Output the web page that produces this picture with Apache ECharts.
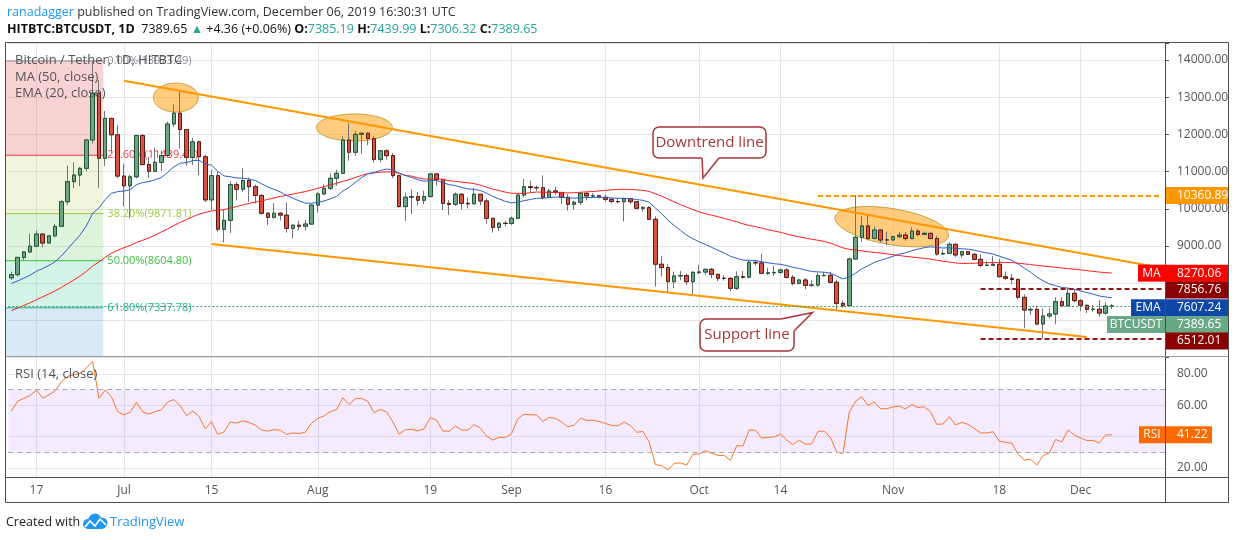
<!DOCTYPE html>
<html>
<head>
<meta charset="utf-8">
<title>HITBTC:BTCUSDT 1D</title>
<script src="https://cdn.jsdelivr.net/npm/echarts@6/dist/echarts.min.js"></script>
<style>
  html, body { margin: 0; padding: 0; background: #fff; }
  #main { width: 1234px; height: 540px; }
</style>
</head>
<body>
<div id="main"></div>
<script>
// daily candles, rows are [open, close, low, high]
const candlesJun = [
  [8145, 8230, 8087, 8311], [8230, 8693, 8183, 8710], [8693, 8838, 8618, 8859], [8838, 8994, 8837, 9335],
  [8994, 9320, 8988, 9416], [9320, 9081, 8966, 9348], [9081, 9273, 9070, 9299], [9273, 9527, 9232, 9594],
  [9527, 10190, 9526, 10230], [10190, 10730, 10107, 11157], [10730, 10909, 10556, 11246], [10909, 11088, 10610, 11120],
  [11088, 11850, 11012, 11880], [11850, 13110, 11755, 13973.49], [13110, 11360, 10560, 13460], [11360, 12430, 11150, 12630],
  [12430, 11990, 11508, 12440], [11990, 10880, 10820, 12250]
];
const candlesJul = [
  [10880, 10620, 10060, 11210], [10620, 10860, 9740, 10912], [10860, 11970, 10818, 11980], [11970, 11190, 11166, 12006],
  [11190, 11010, 10830, 11395], [11010, 11250, 10982, 11650], [11250, 11430, 11012, 11568], [11430, 12280, 11393, 12345],
  [12280, 12570, 12200, 12808], [12570, 12130, 11620, 13150], [12130, 11380, 11158, 12144], [11380, 11800, 11179, 11905],
  [11800, 11400, 10908, 11841], [11400, 10240, 10180, 11451], [10240, 10890, 9970, 11052], [10890, 9450, 9380, 10996],
  [9450, 9690, 9100, 9963], [9690, 10650, 9350, 10736], [10650, 10525, 10229, 10716], [10525, 10760, 10451, 11100],
  [10760, 10595, 10184, 10841], [10595, 10360, 10154, 10651], [10360, 9880, 9840, 10380], [9880, 9770, 9560, 9917],
  [9770, 9880, 9740, 10154], [9880, 9830, 9690, 9916], [9830, 9475, 9360, 10167], [9475, 9560, 9200, 9575],
  [9560, 9530, 9420, 9681], [9530, 9590, 9420, 9701], [9590, 10100, 9580, 10110]
];
const candlesAug = [
  [10100, 10400, 9900, 10446], [10400, 10550, 10371, 10657], [10550, 10820, 10503, 10946], [10820, 10955, 10620, 11050],
  [10955, 11850, 10955, 11950], [11850, 11520, 11290, 12300], [11520, 12000, 11433, 12100], [12000, 12030, 11480, 12050],
  [12030, 11890, 11709, 12050], [11890, 11330, 11250, 11950], [11330, 11560, 11248, 11580], [11560, 11430, 11320, 11600],
  [11430, 10890, 10830, 11500], [10890, 10060, 10028, 10920], [10060, 10310, 9675, 10437], [10310, 10330, 9856, 10524],
  [10330, 10230, 10086, 10452], [10230, 10330, 10119, 10487], [10330, 10936, 10300, 10960], [10936, 10790, 10618, 10960],
  [10790, 10147, 9962, 10798], [10147, 10120, 9831, 10232], [10120, 10390, 10078, 10442], [10390, 10147, 9983, 10419],
  [10147, 10135, 10008, 10304], [10135, 10390, 10130, 10560], [10390, 10210, 10087, 10400], [10210, 9745, 9601, 10279],
  [9745, 9500, 9360, 9756], [9500, 9610, 9402, 9655], [9610, 9605, 9531, 9673]
];
const candlesSep = [
  [9605, 9745, 9560, 9797], [9745, 10370, 9730, 10410], [10370, 10595, 10308, 10800], [10595, 10570, 10434, 10762],
  [10570, 10565, 10482, 10627], [10565, 10308, 10250, 10898], [10308, 10480, 10300, 10532], [10480, 10440, 10380, 10595],
  [10440, 10308, 10130, 10450], [10308, 10120, 9954, 10394], [10120, 10175, 9980, 10215], [10175, 10416, 10099, 10450],
  [10416, 10345, 10226, 10441], [10345, 10350, 10291, 10422], [10350, 10310, 10280, 10387], [10310, 10255, 10189, 10386],
  [10255, 10195, 10150, 10297], [10195, 10190, 10150, 10275], [10190, 10275, 9660, 10295], [10275, 10190, 10132, 10285],
  [10190, 10013, 9990, 10200], [10013, 10030, 9922, 10074], [10030, 9717, 9700, 10074], [9717, 8510, 7910, 9802],
  [8510, 8420, 8180, 8730], [8420, 8040, 7750, 8520], [8040, 8195, 7870, 8315], [8195, 8205, 8080, 8333],
  [8205, 8040, 7950, 8261], [8040, 8292, 7700, 8330]
];
const candlesOct = [
  [8292, 8300, 8232, 8497], [8300, 8373, 8227, 8393], [8373, 8238, 8135, 8413], [8238, 8131, 8057, 8260],
  [8131, 8130, 8071, 8215], [8130, 7862, 7780, 8161], [7862, 8176, 7820, 8316], [8176, 8160, 8120, 8332],
  [8160, 8561, 8130, 8627], [8561, 8545, 8477, 8625], [8545, 8265, 8250, 8794], [8265, 8280, 8220, 8414],
  [8280, 8290, 8200, 8470], [8290, 8355, 8250, 8400], [8355, 8158, 8120, 8406], [8158, 7996, 7940, 8216],
  [7996, 8086, 7965, 8120], [8086, 7943, 7841, 8139], [7943, 7950, 7900, 8082], [7950, 8203, 7900, 8281],
  [8203, 8210, 8180, 8296], [8210, 8023, 8000, 8303], [8023, 7459, 7300, 8093], [7459, 7396, 7342, 7532],
  [7396, 8650, 7380, 8691], [8650, 9233, 8645, 10360.89], [9233, 9538, 9112, 9800], [9538, 9206, 9150, 9850],
  [9206, 9430, 9180, 9516], [9430, 9161, 9085, 9440], [9161, 9165, 9028, 9383]
];
const candlesNov = [
  [9165, 9250, 9132, 9275], [9250, 9295, 9220, 9377], [9295, 9200, 9141, 9379], [9200, 9400, 9191, 9505],
  [9400, 9310, 9257, 9457], [9310, 9340, 9290, 9391], [9340, 9200, 9190, 9368], [9200, 8785, 8740, 9272],
  [8785, 8800, 8760, 8891], [8800, 9045, 8790, 9103], [9045, 8758, 8704, 9066], [8758, 8848, 8685, 8880],
  [8848, 8776, 8761, 8860], [8776, 8642, 8620, 8812], [8642, 8480, 8427, 8778], [8480, 8480, 8460, 8591],
  [8480, 8510, 8460, 8727], [8510, 8176, 8150, 8653], [8176, 8131, 8080, 8316], [8131, 8100, 7980, 8247],
  [8100, 7620, 7560, 8130], [7620, 7280, 6787, 7697], [7280, 7297, 7150, 7351], [7297, 6903, 6870, 7398],
  [6903, 7118, 6512.01, 7319], [7118, 7172, 7050, 7320], [7172, 7504, 6900, 7619], [7504, 7396, 7350, 7620],
  [7396, 7728, 7380, 7856.76], [7728, 7531, 7480, 7836]
];
const candlesDec = [
  [7531, 7405, 7250, 7571], [7405, 7297, 7200, 7430], [7297, 7300, 7230, 7418], [7300, 7195, 7100, 7550],
  [7195, 7385.19, 7150, 7480], [7385.19, 7389.65, 7306.32, 7439.99]
];
// closes 24 Apr - 12 Jun, only used to warm up MA / EMA / RSI
const warmupCloses = [
  5464, 5210, 5279, 5268, 5285, 5248, 5350,
  5402, 5505, 5768, 5831, 5795, 5746, 5829, 5982, 6174, 6379, 7204, 6972, 7814, 7994, 8205, 7884,
  7343, 7271, 8197, 7978, 7963, 7680, 7881, 7987, 8052, 8673, 8805, 8720, 8659, 8319, 8574,
  8564, 8742, 8209, 7707, 7824, 7822, 8043, 7954, 7688, 8000, 7927, 8145
];

const firstDay = '2019-06-13';
const dayCount = 185;
const tickDates = ['2019-06-17', '2019-07-01', '2019-07-15', '2019-08-01', '2019-08-19', '2019-09-01',
  '2019-09-16', '2019-10-01', '2019-10-14', '2019-11-01', '2019-11-18', '2019-12-01'];
const tickLabels = ['17', 'Jul', '15', 'Aug', '19', 'Sep', '16', 'Oct', '14', 'Nov', '18', 'Dec'];

// fibonacci retracement drawn on the left
const fibRatios = [0, 0.236, 0.382, 0.5, 0.618];
const fibPrices = [13973.49, 11439.47, 9871.81, 8604.80, 7337.78];
const fibLineColors = ['#8a8d96', '#f23645', '#9acd3c', '#3cbf3c', '#1fb38c'];
const fibZoneColors = ['rgba(232,70,70,0.24)', 'rgba(180,212,80,0.2)', 'rgba(90,200,80,0.2)',
  'rgba(40,200,140,0.2)', 'rgba(60,150,210,0.2)'];

// drawn levels and channel
const channelTop = [['2019-07-01', 13440], ['2019-12-13', 8440]];
const channelBottom = [['2019-07-15', 9054], ['2019-12-02', 6554]];
const octHigh = 10360.89, novRangeHigh = 7856.76, novLow = 6512.01;

const lastPrice = 7389.65, maLast = 8270.06, emaLast = 7607.24, rsiLast = 41.22;

const dates = [];
for (let i = 0; i < dayCount; i++) {
  const d = new Date(firstDay + 'T00:00:00Z');
  d.setUTCDate(d.getUTCDate() + i);
  dates.push(d.toISOString().slice(0, 10));
}
const candles = [].concat(candlesJun, candlesJul, candlesAug, candlesSep, candlesOct, candlesNov, candlesDec);
const bodies = candles.map(c => [c[0], c[1], Math.min(c[0], c[1]), Math.max(c[0], c[1])]);
const closes = warmupCloses.concat(candles.map(c => c[1]));
const warm = warmupCloses.length;

function sma(src, n) {
  return src.map((v, i) => {
    if (i < n - 1) return null;
    let s = 0;
    for (let k = i - n + 1; k <= i; k++) s += src[k];
    return s / n;
  });
}
function ema(src, n) {
  const k = 2 / (n + 1);
  let e = null;
  return src.map((v, i) => {
    if (i < n - 1) return null;
    if (i === n - 1) { e = src.slice(0, n).reduce((a, b) => a + b, 0) / n; return e; }
    e = v * k + e * (1 - k);
    return e;
  });
}
function rsi(src, n) {
  let up = 0, dn = 0;
  const out = [null];
  for (let i = 1; i < src.length; i++) {
    const ch = src[i] - src[i - 1];
    const u = Math.max(ch, 0), d = Math.max(-ch, 0);
    if (i <= n) {
      up += u; dn += d;
      if (i === n) { up /= n; dn /= n; out.push(100 - 100 / (1 + up / dn)); }
      else out.push(null);
    } else {
      up = (up * (n - 1) + u) / n;
      dn = (dn * (n - 1) + d) / n;
      out.push(100 - 100 / (1 + up / dn));
    }
  }
  return out;
}
const ma50 = sma(closes, 50).slice(warm);
const ema20 = ema(closes, 20).slice(warm);
const rsi14 = rsi(closes, 14).slice(warm);

const font = '"Open Sans", "Noto Sans", sans-serif';
const gridColor = '#e6e6e6';
const onTick = (i, v) => tickDates.indexOf(v) >= 0;

const xAxisBase = {
  type: 'category',
  data: dates,
  boundaryGap: true,
  axisLine: { show: false },
  axisTick: { show: false },
  splitLine: { show: true, interval: onTick, alignWithLabel: true, lineStyle: { color: gridColor } }
};

const option = {
  animation: false,
  backgroundColor: '#fff',
  grid: [
    { left: 8.3, width: 1156.7, top: 43, height: 314.6 },
    { left: 8.3, width: 1156.7, top: 356, height: 121 }
  ],
  xAxis: [
    Object.assign({}, xAxisBase, { gridIndex: 0, axisLabel: { show: false } }),
    Object.assign({}, xAxisBase, {
      gridIndex: 1,
      axisLabel: {
        show: true, interval: onTick, margin: 8, color: '#555', fontSize: 12, fontFamily: font,
        formatter: v => tickLabels[tickDates.indexOf(v)] || ''
      }
    })
  ],
  yAxis: [
    {
      gridIndex: 0, type: 'value', position: 'right', min: 6000, max: 14457, interval: 1000,
      axisLine: { show: false },
      axisTick: { show: true, length: 4, lineStyle: { color: '#555' } },
      axisLabel: {
        margin: 12, color: '#555', fontSize: 12, fontFamily: font,
        formatter: v => (v % 1000 === 0 && v > 6000) ? v.toFixed(2) : ''
      },
      splitLine: { lineStyle: { color: gridColor } }
    },
    {
      gridIndex: 1, type: 'value', position: 'right', min: 14.26, max: 91.49, splitNumber: 4,
      axisLine: { show: false },
      axisTick: { show: false },
      axisLabel: {
        margin: 12, color: '#555', fontSize: 12, fontFamily: font,
        formatter: v => (Math.abs(v % 20) < 1e-6 && v >= 20 && v <= 80) ? v.toFixed(2) : ''
      },
      splitLine: { lineStyle: { color: gridColor } }
    }
  ],
  series: [
    {
      name: 'MA', type: 'line', xAxisIndex: 0, yAxisIndex: 0, data: ma50,
      symbol: 'none', lineStyle: { color: '#ff1f1f', width: 1 }, silent: true
    },
    {
      name: 'EMA', type: 'line', xAxisIndex: 0, yAxisIndex: 0, data: ema20,
      symbol: 'none', lineStyle: { color: '#2f5fc7', width: 1 }, silent: true
    },
    {
      // wicks only: transparent bodies with grey outline
      name: 'wick', type: 'candlestick', xAxisIndex: 0, yAxisIndex: 0, data: candles, barWidth: 4,
      itemStyle: { color: 'rgba(0,0,0,0)', color0: 'rgba(0,0,0,0)', borderColor: '#737375', borderColor0: '#737375', borderWidth: 1 },
      markLine: {
        silent: true, symbol: ['none', 'none'], label: { show: false },
        data: [
          [{ coord: channelTop[0], lineStyle: { color: '#ff9800', width: 2, type: 'solid' } }, { coord: channelTop[1] }],
          [{ coord: channelBottom[0], lineStyle: { color: '#ff9800', width: 2, type: 'solid' } }, { coord: channelBottom[1] }],
          [{ coord: ['2019-10-20', octHigh], lineStyle: { color: '#ff9800', width: 2, type: [5, 3] } }, { coord: [dates[dayCount - 1], octHigh] }],
          [{ coord: ['2019-11-15', novRangeHigh], lineStyle: { color: '#98161a', width: 2, type: [5, 3] } }, { coord: [dates[dayCount - 1], novRangeHigh] }],
          [{ coord: ['2019-11-15', novLow], lineStyle: { color: '#98161a', width: 2, type: [5, 3] } }, { coord: [dates[dayCount - 1], novLow] }],
          { yAxis: lastPrice, lineStyle: { color: '#3f9b74', width: 1, type: [2, 2] } }
        ]
      }
    },
    {
      name: 'BTCUSDT', type: 'candlestick', xAxisIndex: 0, yAxisIndex: 0, data: bodies, barWidth: 4,
      itemStyle: { color: '#6ba583', color0: '#d75442', borderColor: '#225437', borderColor0: '#5b1a13', borderWidth: 1 }
    },
    {
      name: 'RSI', type: 'line', xAxisIndex: 1, yAxisIndex: 1, data: rsi14,
      symbol: 'none', lineStyle: { color: '#f5782c', width: 1 }, silent: true,
      markArea: {
        silent: true,
        itemStyle: { color: 'rgba(155,60,255,0.1)' },
        data: [[{ yAxis: 30 }, { yAxis: 70 }]]
      },
      markLine: {
        silent: true, symbol: ['none', 'none'], label: { show: false },
        lineStyle: { color: '#a9a9b3', width: 1, type: [5, 4] },
        data: [{ yAxis: 70 }, { yAxis: 30 }]
      }
    }
  ]
};

const chart = echarts.init(document.getElementById('main'));
chart.setOption(option);

// annotations anchored on (date, value) through the grid scales
function pt(date, price, shift) {
  const p = chart.convertToPixel({ gridIndex: 0 }, [date, price]);
  if (shift) {
    const i = dates.indexOf(date);
    const q = chart.convertToPixel({ gridIndex: 0 }, [dates[i + 1], price]);
    p[0] += shift * (q[0] - p[0]);
  }
  return p;
}
function rsiY(v) { return chart.convertToPixel({ gridIndex: 1 }, [dates[0], v])[1]; }

function ellipsePoints(c, rx, ry, deg) {
  const a = deg * Math.PI / 180, pts = [];
  for (let k = 0; k < 90; k++) {
    const t = k / 90 * 2 * Math.PI;
    const ex = rx * Math.cos(t), ey = ry * Math.sin(t);
    pts.push([c[0] + ex * Math.cos(a) - ey * Math.sin(a), c[1] + ex * Math.sin(a) + ey * Math.cos(a)]);
  }
  return pts;
}

const g = [];
const paneBottom = 356, axisX = 1165;

// fib zones, lines and labels
const fibLeft = 6;
const fibRight = pt('2019-06-28', fibPrices[0], -0.3)[0];
fibPrices.forEach((p, i) => {
  const y0 = pt(dates[0], p)[1];
  const y1 = i + 1 < fibPrices.length ? pt(dates[0], fibPrices[i + 1])[1] : paneBottom;
  g.push({ type: 'rect', z: 1, silent: true, shape: { x: fibLeft, y: y0, width: fibRight - fibLeft, height: y1 - y0 },
    style: { fill: fibZoneColors[i] } });
});
fibPrices.forEach((p, i) => {
  const y = pt(dates[0], p)[1];
  g.push({ type: 'line', z: 1, silent: true, shape: { x1: fibLeft, y1: y, x2: fibRight, y2: y },
    style: { stroke: fibLineColors[i], lineWidth: 1 } });
  g.push({ type: 'text', z: 1, silent: true, x: fibRight + 4, y: y,
    style: { text: (fibRatios[i] * 100).toFixed(2) + '%(' + p.toFixed(2) + ')', fill: fibLineColors[i],
      font: '11px ' + font, verticalAlign: 'middle' } });
});

// highlighted tops
const ellipses = [
  { c: pt('2019-07-09', 12990, 0.3), rx: 22.5, ry: 14.5, rot: 0 },
  { c: pt('2019-08-07', 12185, -0.15), rx: 38, ry: 13.5, rot: 0 },
  { c: pt('2019-11-01', 9520, -0.2), rx: 57.5, ry: 18, rot: 9.5 }
];
ellipses.forEach(e => {
  g.push({ type: 'polygon', z: 1, silent: true, shape: { points: ellipsePoints(e.c, e.rx, e.ry, e.rot) },
    style: { fill: 'rgba(255,152,0,0.5)', stroke: '#bfa33c', lineWidth: 1 } });
});

// callouts
const calloutColor = '#a8353a';
function callout(box, tail, inset, text) {
  g.push({ type: 'rect', z: 25, silent: true, shape: { x: box[0], y: box[1], width: box[2], height: box[3], r: 6 },
    style: { fill: '#fff', stroke: calloutColor, lineWidth: 1.5 } });
  g.push({ type: 'polygon', z: 26, silent: true, shape: { points: tail.concat(inset) }, style: { fill: '#fff' } });
  g.push({ type: 'polyline', z: 27, silent: true, shape: { points: tail }, style: { stroke: calloutColor, lineWidth: 1.5, fill: null } });
  g.push({ type: 'text', z: 28, silent: true, x: box[0] + box[2] / 2, y: box[1] + box[3] / 2,
    style: { text: text, fill: calloutColor, font: '15px ' + font, align: 'center', verticalAlign: 'middle' } });
}
callout([653, 127, 113, 31], [[702, 158], [703, 178], [719, 158]], [[719, 155], [702, 155]], 'Downtrend line');
callout([700, 319, 94, 32], [[781, 319], [812.5, 312.5], [794, 331]], [[790, 331], [780, 322]], 'Support line');

// pane legends
const legendStyle = { fill: '#555', font: '13px ' + font, verticalAlign: 'middle' };
[['Bitcoin / Tether, 1D, HITBTC', 60], ['MA (50, close)', 77], ['EMA (20, close)', 93], ['RSI (14, close)', 374]].forEach(r => {
  g.push({ type: 'text', z: 30, silent: true, x: 15, y: r[1], style: Object.assign({ text: r[0] }, legendStyle) });
});

// frame
const frameColor = '#4d4d4d';
g.push({ type: 'rect', z: 40, silent: true, shape: { x: 5.5, y: 42.5, width: 1223, height: 460 }, style: { fill: null, stroke: frameColor, lineWidth: 1 } });
g.push({ type: 'line', z: 40, silent: true, shape: { x1: axisX + 0.5, y1: 42.5, x2: axisX + 0.5, y2: 502.5 }, style: { stroke: frameColor, lineWidth: 1 } });
g.push({ type: 'line', z: 40, silent: true, shape: { x1: 5.5, y1: 477.5, x2: 1228.5, y2: 477.5 }, style: { stroke: frameColor, lineWidth: 1 } });
g.push({ type: 'line', z: 40, silent: true, shape: { x1: 5.5, y1: 356.5, x2: 1228.5, y2: 356.5 }, style: { stroke: '#9a9a9a', lineWidth: 1 } });

// price scale labels
function axisTag(y, text, bg, w) {
  g.push({ type: 'rect', z: 45, silent: true, shape: { x: axisX + 1, y: y - 8.5, width: w || 62, height: 17 }, style: { fill: bg } });
  g.push({ type: 'text', z: 46, silent: true, x: axisX + 12, y: y, style: { text: text, fill: '#fff', font: '12px ' + font, verticalAlign: 'middle' } });
}
function nameTag(y, text, bg, x0) {
  g.push({ type: 'rect', z: 45, silent: true, shape: { x: x0, y: y - 8.5, width: axisX - x0, height: 17 }, style: { fill: bg } });
  g.push({ type: 'text', z: 46, silent: true, x: (x0 + axisX) / 2, y: y, style: { text: text, fill: '#fff', font: '12px ' + font, align: 'center', verticalAlign: 'middle' } });
}
axisTag(pt(dates[0], octHigh)[1], octHigh.toFixed(2), '#ff9800');
nameTag(pt(dates[0], maLast)[1], 'MA', '#ff0000', 1138);
axisTag(pt(dates[0], maLast)[1], maLast.toFixed(2), '#ff0000');
axisTag(pt(dates[0], novRangeHigh)[1] + 1.5, novRangeHigh.toFixed(2), '#8b0000');
nameTag(pt(dates[0], emaLast)[1] + 10, 'EMA', '#0f47a8', 1131);
axisTag(pt(dates[0], emaLast)[1] + 10, emaLast.toFixed(2), '#0f47a8');
nameTag(pt(dates[0], lastPrice)[1] + 18.5, 'BTCUSDT', '#6aa886', 1107);
axisTag(pt(dates[0], lastPrice)[1] + 18.5, lastPrice.toFixed(2), '#6aa886');
axisTag(pt(dates[0], novLow)[1] + 2.5, novLow.toFixed(2), '#8b0000');
nameTag(rsiY(rsiLast), 'RSI', '#ff6a00', 1139);
axisTag(rsiY(rsiLast), rsiLast.toFixed(2), '#ff6a00', 46);

// header
g.push({ type: 'text', z: 50, silent: true, x: 7, y: 12, style: {
  text: '{u|ranadagger} published on TradingView.com, December 06, 2019 16:30:31 UTC',
  fill: '#333', font: '12.5px ' + font, verticalAlign: 'middle',
  rich: { u: { fill: '#2196f3', fontSize: 12.5, fontFamily: font } } } });
g.push({ type: 'text', z: 50, silent: true, x: 7, y: 29, style: {
  text: '{b|HITBTC:BTCUSDT, 1D}  {n|7389.65} {g|▲} {n|+4.36 (+0.06%)} {b|O:}{g|7385.19} {b|H:}{g|7439.99} {b|L:}{g|7306.32} {b|C:}{g|7389.65}',
  fill: '#111', font: '12.5px ' + font, verticalAlign: 'middle',
  rich: {
    b: { fill: '#111', fontWeight: 'bold', fontSize: 12.5, fontFamily: font },
    n: { fill: '#111', fontSize: 12.5, fontFamily: font },
    g: { fill: '#26a69a', fontSize: 12.5, fontFamily: font }
  } } });

// footer with a small cloud logo
g.push({ type: 'text', z: 50, silent: true, x: 6, y: 522, style: { text: 'Created with', fill: '#222', font: '12.5px ' + font, verticalAlign: 'middle' } });
g.push({ type: 'circle', z: 50, silent: true, shape: { cx: 88, cy: 524, r: 5 }, style: { fill: '#2196f3' } });
g.push({ type: 'circle', z: 50, silent: true, shape: { cx: 95, cy: 520, r: 6.5 }, style: { fill: '#2196f3' } });
g.push({ type: 'circle', z: 50, silent: true, shape: { cx: 102, cy: 523, r: 5.5 }, style: { fill: '#2196f3' } });
g.push({ type: 'rect', z: 50, silent: true, shape: { x: 88, y: 523, width: 15, height: 6 }, style: { fill: '#2196f3' } });
g.push({ type: 'polyline', z: 51, silent: true, shape: { points: [[85, 527], [90, 521], [95, 526], [100, 519], [106, 525]] }, style: { stroke: '#fff', lineWidth: 1.6, fill: null } });
g.push({ type: 'text', z: 50, silent: true, x: 110, y: 522, style: { text: 'TradingView', fill: '#2196f3', font: '13px ' + font, verticalAlign: 'middle' } });

chart.setOption({ graphic: { elements: g } });
</script>
</body>
</html>
